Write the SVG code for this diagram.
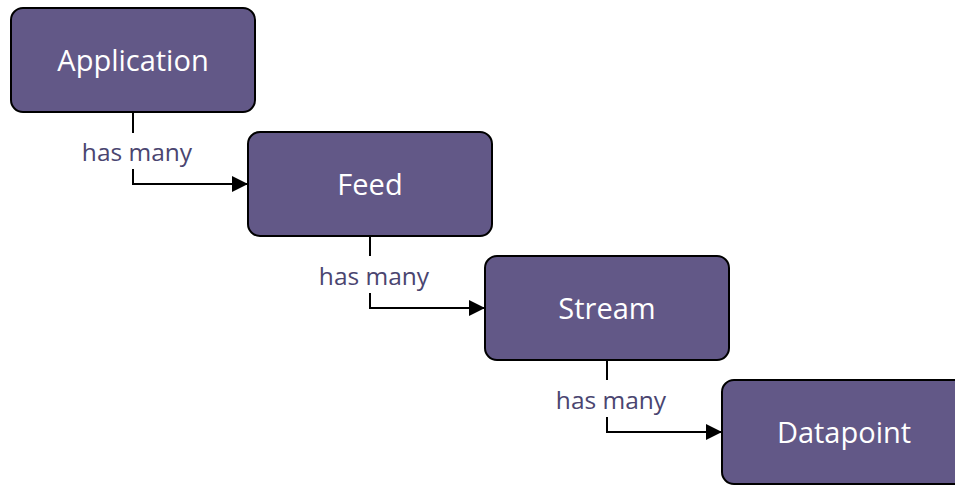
<svg xmlns="http://www.w3.org/2000/svg" width="955" height="485" viewBox="0 0 955 485">
  <defs>
    <marker id="arrow" viewBox="0 0 16 16" refX="16" refY="8" markerWidth="16" markerHeight="16" markerUnits="userSpaceOnUse" orient="auto">
      <path d="M0,0 L16,8 L0,16 Z" fill="#000"/>
    </marker>
    <style>
      .box { fill: #625887; stroke: #000; stroke-width: 2; }
      .title { font-family: "Open Sans", "Liberation Sans", sans-serif; font-size: 29px; fill: #fff; text-anchor: middle; }
      .link { fill: none; stroke: #000; stroke-width: 2; }
      .label { font-family: "Open Sans", "Liberation Sans", sans-serif; font-size: 24.5px; fill: #4a4570; text-anchor: middle; }
    </style>
  </defs>
  <rect width="955" height="485" fill="#fff"/>

  <g id="connectors">
    <g id="application-feed">
      <path class="link" d="M133,113 V133"/>
      <path class="link" d="M133,169 V184 H248" marker-end="url(#arrow)"/>
      <text class="label" x="137" y="161">has many</text>
    </g>
    <g id="feed-stream">
      <path class="link" d="M370,237 V256"/>
      <path class="link" d="M370,293 V308 H485" marker-end="url(#arrow)"/>
      <text class="label" x="374" y="285">has many</text>
    </g>
    <g id="stream-datapoint">
      <path class="link" d="M607,361 V380"/>
      <path class="link" d="M607,417 V432 H722" marker-end="url(#arrow)"/>
      <text class="label" x="611" y="409">has many</text>
    </g>
  </g>

  <g id="application">
    <rect class="box" x="11" y="8" width="244" height="104" rx="12"/>
    <text class="title" x="133" y="71">Application</text>
  </g>
  <g id="feed">
    <rect class="box" x="248" y="132" width="244" height="104" rx="12"/>
    <text class="title" x="370" y="195">Feed</text>
  </g>
  <g id="stream">
    <rect class="box" x="485" y="256" width="244" height="104" rx="12"/>
    <text class="title" x="607" y="319">Stream</text>
  </g>
  <g id="datapoint">
    <rect class="box" x="722" y="380" width="244" height="104" rx="12"/>
    <text class="title" x="844" y="443">Datapoint</text>
  </g>
</svg>
